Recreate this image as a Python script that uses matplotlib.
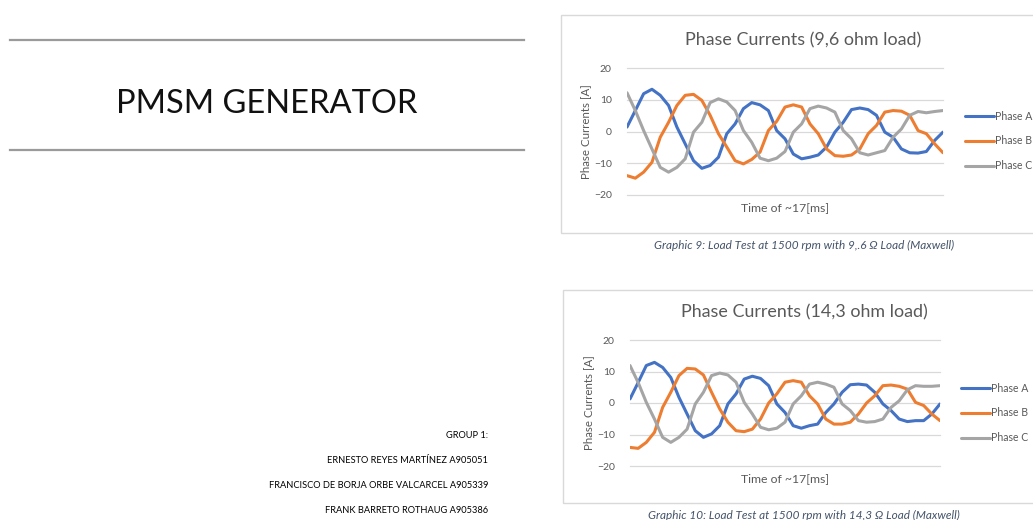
import numpy as np
import matplotlib
matplotlib.use("Agg")
import matplotlib.pyplot as plt
from matplotlib.patches import Rectangle
from matplotlib.lines import Line2D

plt.rcParams["font.family"] = ["Lato", "DejaVu Sans"]

# -------------------------------
# Data (39 samples over ~17 ms)
# -------------------------------
phase_a_96 = [1.4, 6.6, 11.9, 13.3, 11.4, 8.2, 1.4, -3.9, -9.2, -11.6, -10.7, -8.1, -0.7,
              2.4, 7.2, 9.1, 8.4, 6.6, 0.3, -2.3, -7.1, -8.6, -8.1, -7.4, -4.9, -0.2,
              2.9, 6.9, 7.4, 6.9, 5.1, -0.2, -1.8, -5.5, -6.7, -6.8, -6.3, -2.8, -0.2]
phase_b_96 = [-13.9, -14.7, -12.8, -9.7, -1.8, 2.9, 8.2, 11.4, 11.7, 9.8, 5.1, -0.7, -4.9,
              -9.2, -10.2, -8.8, -6.5, 0.3, 3.2, 7.7, 8.4, 7.7, 2.4, -0.7, -5.5, -7.6,
              -7.8, -7.4, -5.5, -0.7, 1.9, 6.1, 6.6, 6.4, 5.1, 0.3, -0.7, -3.9, -6.7]
phase_c_96 = [12.2, 6.6, 0.3, -5.5, -11.3, -12.8, -11.3, -8.6, -0.2, 2.9, 9.1, 10.3, 9.3,
              6.6, 0.3, -3.4, -8.4, -9.2, -8.4, -6.3, -0.2, 2.4, 7.2, 8.0, 7.4, 6.1,
              0.3, -2.3, -6.7, -7.4, -6.7, -6.0, -1.8, 0.8, 5.1, 6.3, 5.9, 6.3, 6.6]

phase_a_143 = [1.3, 6.5, 11.9, 12.9, 11.3, 8.1, 1.8, -3.5, -8.8, -10.9, -9.8, -7.2, -0.3,
               2.9, 7.6, 8.5, 7.8, 5.5, -0.3, -3.0, -7.2, -8.0, -7.2, -6.7, -3.0, -0.3,
               3.4, 5.8, 6.0, 5.7, 3.4, -0.3, -2.4, -5.1, -5.9, -5.6, -5.6, -3.5, -0.3]
phase_b_143 = [-14.1, -14.4, -12.5, -9.3, -1.4, 3.4, 8.7, 11.0, 10.8, 8.9, 3.4, -1.9, -6.1,
               -8.8, -9.1, -8.3, -5.1, 0.0, 2.9, 6.6, 7.1, 6.6, 2.3, -0.3, -5.1, -6.7,
               -6.7, -6.1, -3.5, 0.0, 2.3, 5.5, 5.7, 5.3, 4.4, 0.2, -0.8, -3.5, -5.6]
phase_c_143 = [11.9, 6.5, 0.2, -5.1, -10.9, -12.5, -10.9, -8.3, -0.3, 3.4, 8.7, 9.5, 8.9,
               6.6, 0.2, -3.5, -7.7, -8.5, -8.0, -6.1, -0.3, 2.3, 6.0, 6.6, 6.0, 5.0,
               -0.3, -2.4, -5.6, -6.1, -5.9, -5.1, -1.4, 0.7, 4.2, 5.5, 5.3, 5.3, 5.5]

phase_names = ["Phase A", "Phase B", "Phase C"]
phase_colors = ["#4472C4", "#ED7D31", "#A5A5A5"]
y_ticks = [-20, -10, 0, 10, 20]

group_lines = ["GROUP 1:",
               "ERNESTO REYES MARTÍNEZ A905051",
               "FRANCISCO DE BORJA ORBE VALCARCEL A905339",
               "FRANK BARRETO ROTHAUG A905386"]

W, H = 1033, 520
fig = plt.figure(figsize=(W / 100, H / 100), dpi=100)
fig.patch.set_facecolor("white")


def fx(px):
    return px / W


def fy(py):
    return 1 - py / H


# -------------------------------
# Left side: document title and group names
# -------------------------------
for yy in (40, 150):
    fig.add_artist(Line2D([fx(10), fx(524)], [fy(yy), fy(yy)], color="#9a9a9a", lw=1.6))
fig.text(fx(267), fy(104), "PMSM GENERATOR", ha="center", va="center",
         fontsize=23.5, color="#111111")
for i, s in enumerate(group_lines):
    fig.text(fx(488), fy(436 + 24.7 * i), s, ha="right", va="center",
             fontsize=6.7, color="#000000")


# -------------------------------
# Helper for one Excel-style chart
# -------------------------------
def phase_chart(box, plot, title, caption, series, leg_y):
    bx0, by0, by1 = box
    fig.add_artist(Rectangle((fx(bx0), fy(by1)), fx(W + 10 - bx0), fy(by0) - fy(by1),
                             transform=fig.transFigure, fill=False,
                             edgecolor="#D9D9D9", lw=1))
    px0, px1, py0, py1 = plot
    ax = fig.add_axes([fx(px0), fy(py1), fx(px1 - px0), fy(py0) - fy(py1)])
    x = np.arange(len(series[0]))
    for vals, name, col in zip(series, phase_names, phase_colors):
        ax.plot(x, vals, color=col, lw=2.2, label=name, solid_capstyle="round",
                solid_joinstyle="round")
    ax.set_xlim(0, len(x) - 1)
    ax.set_ylim(-20, 20)
    ax.set_yticks(y_ticks)
    ax.set_xticks([])
    ax.yaxis.grid(True, color="#D9D9D9", lw=0.9)
    ax.set_axisbelow(True)
    for sp in ax.spines.values():
        sp.set_visible(False)
    ax.tick_params(axis="y", length=0, labelsize=7.5, labelcolor="#595959", pad=11)
    ax.set_ylabel("Phase Currents [A]", fontsize=8.3, color="#595959", labelpad=2)
    ax.set_xlabel("Time of ~17[ms]", fontsize=8.8, color="#595959", labelpad=5)
    for gl in ax.get_ygridlines():
        gl.set_clip_on(False)
    ax.set_facecolor("none")
    fig.text(fx(title[2]), fy(title[1]), title[0], ha="center", va="center",
             fontsize=12.9, color="#595959")
    fig.text(fx(caption[1]), fy(caption[2]), caption[0], ha="center", va="center",
             fontsize=8.5, style="italic", color="#44546A")
    ax.legend(loc="center left", bbox_to_anchor=(fx(leg_y[0]), fy(leg_y[1])),
              bbox_transform=fig.transFigure, frameon=False, fontsize=7.6,
              handlelength=2.7, handletextpad=0.15, labelspacing=1.3,
              borderpad=0, borderaxespad=0, labelcolor="#595959")


phase_chart((561, 15, 233), (627, 943, 68, 195), ("Phase Currents (9,6 ohm load)", 40, 803),
            ("Graphic 9: Load Test at 1500 rpm with 9,.6 \u03a9 Load (Maxwell)", 804, 245),
            [phase_a_96, phase_b_96, phase_c_96], (965, 141))
phase_chart((563, 290, 503), (630, 940, 340, 466), ("Phase Currents (14,3 ohm load)", 312, 804),
            ("Graphic 10: Load Test at 1500 rpm with 14,3 \u03a9 Load (Maxwell)", 804, 515),
            [phase_a_143, phase_b_143, phase_c_143], (961, 413))

plt.savefig("out.png", dpi=100)
